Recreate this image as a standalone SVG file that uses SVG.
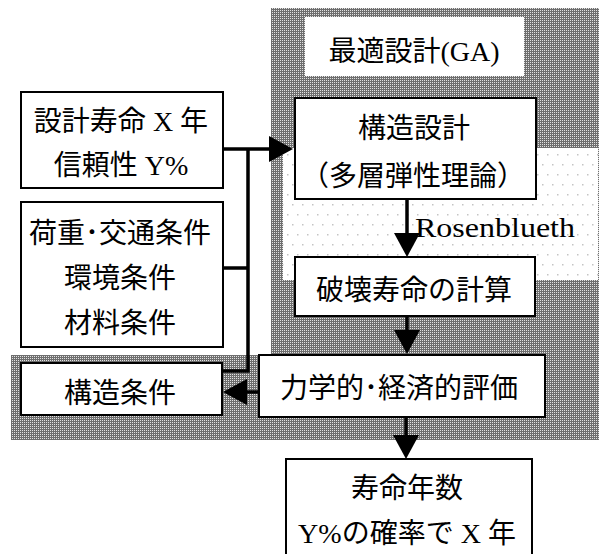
<svg xmlns="http://www.w3.org/2000/svg" width="599" height="554" viewBox="0 0 599 554">
<defs>
<pattern id="hatch" width="2" height="2" patternUnits="userSpaceOnUse">
<rect width="2" height="2" fill="#6e6e6e"/>
<rect width="1" height="1" fill="#e2e2e2"/>
</pattern>
<pattern id="dots" width="10" height="20" patternUnits="userSpaceOnUse">
<rect width="10" height="20" fill="#fff"/>
<rect x="2" y="4" width="1.5" height="1.5" fill="#c4c4c4"/>
<rect x="7" y="14" width="1.5" height="1.5" fill="#c4c4c4"/>
</pattern>
<marker id="ah" markerUnits="userSpaceOnUse" markerWidth="24" markerHeight="26" refX="1" refY="13" orient="auto">
<path d="M0,0 L24,13 L0,26 z" fill="#000"/>
</marker>
<style>
.box{fill:#fff;stroke:#000;stroke-width:2}
.t{font-family:"Noto Sans CJK JP","Noto Sans CJK SC",sans-serif;font-size:28px;fill:#000;text-anchor:middle}
.s{font-family:"Liberation Serif",serif}
.c{fill:none;stroke:#000;stroke-width:3.5}
.a{marker-end:url(#ah)}
</style>
</defs>
<rect width="599" height="554" fill="#fff"/>
<g id="background">
<path d="M271,8 H599 V440 H11 V355 H271 Z" fill="url(#hatch)"/>
<rect x="283" y="148" width="315" height="132" fill="url(#dots)"/>
</g>
<g id="title">
<rect x="305" y="17" width="219" height="59" fill="#fff"/>
<text class="t" x="414" y="61">最適設計<tspan class="s">(GA)</tspan></text>
</g>
<g id="connectors">
<path class="c a" d="M209,149 H270"/>
<path class="c" d="M223,371 H248 V149"/>
<path class="c" d="M223,268 H248"/>
<path class="c a" d="M407,199 V234"/>
<path class="c a" d="M407,316 V331"/>
<path class="c a" d="M259,392 H246"/>
<path class="c a" d="M406,417 V436"/>
<text class="s" x="415" y="237" font-size="27" textLength="160" lengthAdjust="spacingAndGlyphs">Rosenblueth</text>
</g>
<g id="design">
<rect class="box" x="295" y="98" width="241" height="101"/>
<text class="t" x="414" y="138">構造設計</text>
<text class="t" x="413" y="186">（多層弾性理論）</text>
</g>
<g id="failure">
<rect class="box" x="295" y="257" width="240" height="59"/>
<text class="t" x="414" y="300">破壊寿命の計算</text>
</g>
<g id="evaluation">
<rect class="box" x="259" y="355" width="286" height="62"/>
<text class="t" x="399" y="398">力学的･経済的評価</text>
</g>
<g id="result">
<rect class="box" x="286" y="459" width="246" height="97"/>
<text class="t" x="407" y="498">寿命年数</text>
<text class="t" x="407" y="543"><tspan class="s">Y%</tspan>の確率で<tspan class="s"> X </tspan>年</text>
</g>
<g id="structure-cond">
<rect class="box" x="21" y="363" width="201" height="52"/>
<text class="t" x="120" y="403">構造条件</text>
</g>
<g id="design-life">
<rect class="box" x="21" y="92" width="202" height="96"/>
<text class="t" x="121" y="131">設計寿命<tspan class="s"> X </tspan>年</text>
<text class="t" x="121" y="175">信頼性<tspan class="s"> Y%</tspan></text>
</g>
<g id="conditions">
<rect class="box" x="21" y="202" width="202" height="145"/>
<text class="t" x="120" y="243">荷重･交通条件</text>
<text class="t" x="120" y="288">環境条件</text>
<text class="t" x="120" y="333">材料条件</text>
</g>
</svg>
